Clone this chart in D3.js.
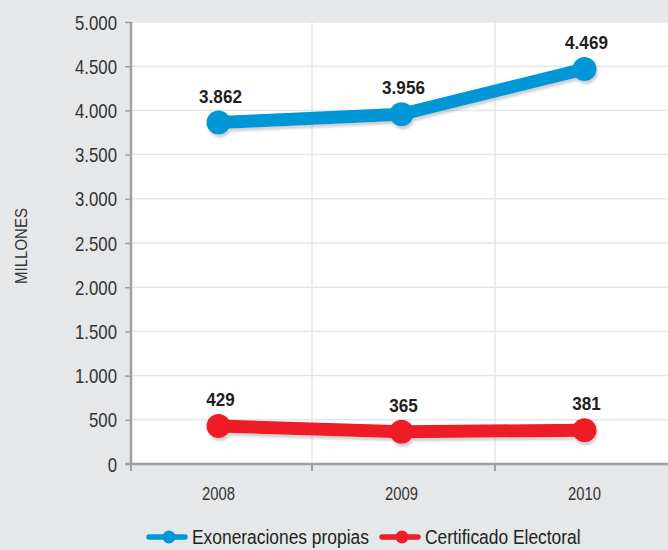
<!DOCTYPE html>
<html>
<head>
<meta charset="utf-8">
<script src="https://cdn.jsdelivr.net/npm/d3@7"></script>
<style>
  body { margin: 0; background: #e6e7e9; }
  svg { display: block; font-family: "Liberation Sans", Arial, sans-serif; }
</style>
</head>
<body>
<div id="chart"></div>
<script>
const years = ['2008', '2009', '2010'];
const exoneraciones = [3862, 3956, 4469];
const certificado = [429, 365, 381];
const yTicks = [0, 500, 1000, 1500, 2000, 2500, 3000, 3500, 4000, 4500, 5000];
const seriesNames = ['Exoneraciones propias', 'Certificado Electoral'];
const seriesColors = ['#0097d7', '#ee1c25'];

const W = 668, H = 550;
const axisX = 131, plotTop = 22, plotBottom = 464;
const ink = '#333';

const svg = d3.select('#chart').append('svg').attr('width', W).attr('height', H);

// shadow under the lines
const filter = svg.append('defs').append('filter').attr('id', 'shadow')
  .attr('x', '-10%').attr('y', '-50%').attr('width', '120%').attr('height', '200%');
filter.append('feDropShadow')
  .attr('dx', 1.5).attr('dy', 3).attr('stdDeviation', 0.8)
  .attr('flood-color', '#9a9a9a').attr('flood-opacity', 0.45);

const x = d3.scaleBand().domain(years).range([129, 678]);
const y = d3.scaleLinear().domain([0, 5000]).range([plotBottom, plotTop]);
const fmt = d3.formatLocale({ decimal: ',', thousands: '.', grouping: [3], currency: ['', ''] }).format(',');

// condensed-looking text: squeeze a normal face horizontally
function label(parent, px, py, str, size, sx, anchor, weight) {
  return parent.append('text')
    .attr('transform', `translate(${px},${py}) scale(${sx},1)`)
    .attr('text-anchor', anchor || 'start')
    .attr('font-size', size)
    .attr('font-weight', weight || 'normal')
    .attr('fill', ink)
    .text(str);
}

// plot background
svg.append('rect').attr('x', axisX).attr('y', plotTop).attr('width', W - axisX).attr('height', plotBottom - plotTop)
  .attr('fill', '#fff');

// grid
svg.append('g').selectAll('line').data(yTicks.slice(1)).join('line')
  .attr('x1', axisX).attr('x2', W).attr('y1', d => y(d)).attr('y2', d => y(d))
  .attr('stroke', '#e4e5e7').attr('stroke-width', 1.5);
svg.append('g').selectAll('line').data(years.slice(1)).join('line')
  .attr('x1', d => x(d)).attr('x2', d => x(d)).attr('y1', plotTop).attr('y2', plotBottom)
  .attr('stroke', '#e4e5e7').attr('stroke-width', 1.5);

// y axis
const ySx = 0.84;
const yAxis = svg.append('g').attr('transform', `translate(${axisX},0)`)
  .call(d3.axisLeft(y).tickValues(yTicks).tickFormat(fmt).tickSize(6).tickPadding(8));
yAxis.select('.domain').attr('stroke', '#9d9fa2').attr('stroke-width', 2.5).attr('d', `M0,${plotTop}V${plotBottom}`);
yAxis.selectAll('.tick line').attr('stroke', '#9d9fa2').attr('stroke-width', 1.5);
yAxis.selectAll('.tick text')
  .attr('fill', ink).attr('font-size', 20).attr('font-family', '"Liberation Sans", Arial, sans-serif')
  .attr('transform', `scale(${ySx},1)`).attr('x', -14 / ySx).attr('dy', '0.35em');

// x axis
const xAxis = svg.append('g').attr('transform', `translate(0,${plotBottom})`);
xAxis.append('line').attr('x1', axisX - 6).attr('x2', W).attr('y1', 0).attr('y2', 0)
  .attr('stroke', '#9d9fa2').attr('stroke-width', 2.5);
xAxis.selectAll('.xt').data(years).join('line').attr('class', 'xt')
  .attr('x1', (d, i) => i === 0 ? axisX : x(d)).attr('x2', (d, i) => i === 0 ? axisX : x(d))
  .attr('y1', 0).attr('y2', 7).attr('stroke', '#9d9fa2').attr('stroke-width', 2);

const cx = d => x(d) + x.bandwidth() / 2 - 2;
years.forEach(d => label(xAxis, cx(d), 36, d, 18.5, 0.8, 'middle'));

// y title
label(svg.append('g').attr('transform', 'translate(27,246) rotate(-90)'), 0, 0, 'MILLONES', 16, 0.94, 'middle');

// series
const line = d3.line().x((d, i) => cx(years[i])).y(d => y(d));
[exoneraciones, certificado].forEach((vals, s) => {
  const g = svg.append('g').attr('filter', 'url(#shadow)');
  g.append('path').attr('d', line(vals)).attr('fill', 'none')
    .attr('stroke', seriesColors[s]).attr('stroke-width', 13).attr('stroke-linejoin', 'round');
  g.selectAll('circle').data(vals).join('circle')
    .attr('cx', (d, i) => cx(years[i])).attr('cy', d => y(d)).attr('r', 12)
    .attr('fill', seriesColors[s]);
  const lg = svg.append('g');
  vals.forEach((d, i) => label(lg, cx(years[i]) + 2, y(d) - 20, fmt(d), 18.6, 0.92, 'middle', 'bold')
    .attr('fill', '#231f20'));
});

// legend
const legendItems = [{ x: 149, tx: 192 }, { x: 382, tx: 425 }];
legendItems.forEach((it, s) => {
  const lg = svg.append('g').attr('transform', `translate(${it.x},537)`);
  lg.append('line').attr('x1', 0).attr('x2', 36).attr('stroke', seriesColors[s])
    .attr('stroke-width', 5.5).attr('stroke-linecap', 'round');
  lg.append('circle').attr('cx', 20).attr('r', 6.5).attr('fill', seriesColors[s]);
  label(svg, it.tx, 544, seriesNames[s], 20, 0.87).attr('fill', '#231f20');
});
</script>
</body>
</html>
